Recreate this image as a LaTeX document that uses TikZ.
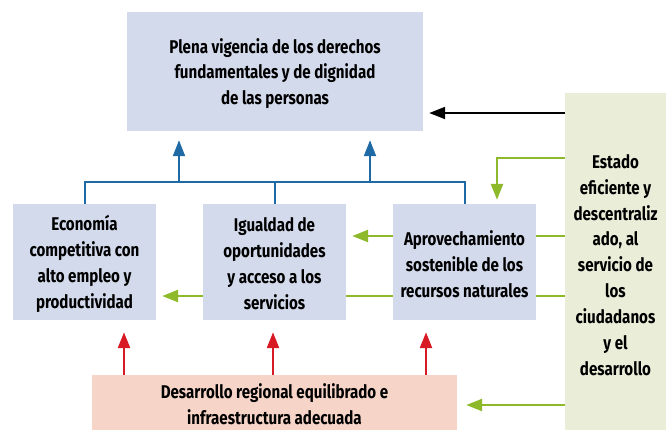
\documentclass[tikz,border=0pt]{standalone}
\usepackage{fontspec}
\setmainfont{Fira Sans}[FakeStretch=0.82]
\usetikzlibrary{arrows.meta,backgrounds}
\definecolor{boxblue}{HTML}{D3DAEC}
\definecolor{boxpink}{HTML}{F6D5C8}
\definecolor{boxgreen}{HTML}{EAEDD8}
\definecolor{lnblue}{HTML}{1F6AA5}
\definecolor{lngreen}{HTML}{8DB92A}
\definecolor{lnred}{HTML}{D71A24}
\tikzset{
  x=1bp,y=-1bp,
  every node/.style={font=\bfseries\fontsize{18.5}{26}\selectfont, align=center, inner sep=0pt, text=black},
  txt/.style={yshift=-2bp},
  bbox/.style={fill=boxblue, draw=none},
  pbox/.style={fill=boxpink, draw=none},
  gbox/.style={fill=boxgreen, draw=none},
  tip/.style={-{Triangle[length=16bp,width=12bp]}},
  bluel/.style={draw=lnblue, line width=2bp},
  bluea/.style={draw=lnblue, line width=2bp, tip, fill=lnblue},
  greena/.style={draw=lngreen, line width=2.4bp, tip},
  reda/.style={draw=lnred, line width=2.4bp, tip},
  blacka/.style={draw=black, line width=2bp, tip},
}
\begin{document}
\begin{tikzpicture}
\useasboundingbox (0,0) rectangle (666,430);
\node[bbox, minimum width=296bp, minimum height=119bp] (top) at (275,71.5) {};
\node[txt] (toptxt) at (top.center)
  {Plena vigencia de los derechos\\fundamentales y de dignidad\\de las personas};
\node[bbox, minimum width=143bp, minimum height=116bp] (eco) at (84.5,262) {};
\node[txt] (ecotxt) at (eco.center)
  {Economía\\competitiva con\\alto empleo y\\productividad};
\node[bbox, minimum width=143bp, minimum height=116bp] (igu) at (274.5,262) {};
\node[txt] (igutxt) at (igu.center)
  {Igualdad de\\oportunidades\\y acceso a los\\servicios};
\node[bbox, minimum width=143bp, minimum height=116bp] (apr) at (464.5,262) {};
\node[txt] (aprtxt) at (apr.center)
  {Aprovechamiento\\sostenible de los\\recursos naturales};
\node[pbox, minimum width=365bp, minimum height=55bp] (reg) at (274.5,402.5) {};
\node[txt] (regtxt) at (reg.center)
  {Desarrollo regional equilibrado e\\infraestructura adecuada};
\node[gbox, minimum width=101bp, minimum height=337bp] (est) at (615.5,261.5) {};
\node[txt] (esttxt) at (615.5,263)
  {Estado\\eficiente y\\descentraliz\\ado, al\\servicio de\\los\\ciudadanos\\y el\\desarrollo};
% coordinates
\coordinate (bus) at (0,182);
\coordinate (upa) at (179,182);
\coordinate (upb) at (370,182);
\coordinate (g1) at (497,158);
% blue connectors
\draw[bluel] (eco.north) -- (eco.north |- bus) -- (apr.north |- bus) -- (apr.north);
\draw[bluel] (igu.north) -- (igu.north |- bus);
\draw[bluea, shorten >=9bp] (upa) -- (upa |- top.south);
\draw[bluea, shorten >=9bp] (upb) -- (upb |- top.south);
% black
\draw[blacka, shorten >=6bp] (est.west |- 0,113) -- (top.east |- 0,113);
% green
\draw[greena, shorten >=4bp] (est.west |- g1) -- (g1) -- (g1 |- apr.north);
\begin{scope}[on background layer]
\draw[greena, shorten >=6bp] (est.west |- 0,236) -- (igu.east |- 0,236);
\draw[greena, shorten >=6bp] (est.west |- 0,296) -- (eco.east |- 0,296);
\end{scope}
\draw[greena, shorten >=9bp] (est.west |- 0,405) -- (reg.east |- 0,405);
% red
\draw[reda, shorten >=12bp] (reg.north -| 124,0) -- (eco.south -| 124,0);
\draw[reda, shorten >=12bp] (reg.north -| 273,0) -- (igu.south -| 273,0);
\draw[reda, shorten >=12bp] (reg.north -| 426,0) -- (apr.south -| 426,0);
\end{tikzpicture}
\end{document}
